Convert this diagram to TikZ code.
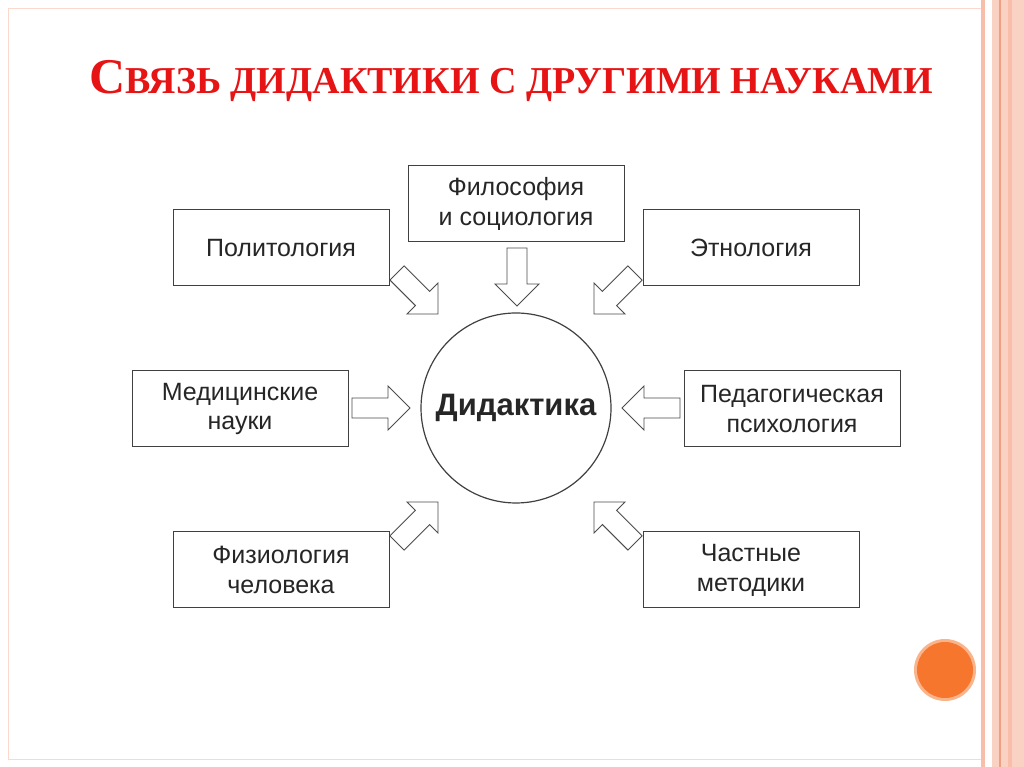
\documentclass[tikz,border=0pt]{standalone}
\usepackage{fontspec}
\setmainfont{Liberation Sans}
\newfontfamily\ttlfont{Liberation Serif}
\definecolor{stripe}{RGB}{248,190,170}
\definecolor{stripedk}{RGB}{240,160,130}
\definecolor{ttlred}{RGB}{230,20,20}
\definecolor{dot}{RGB}{246,118,46}
\begin{document}
\begin{tikzpicture}[x=1pt,y=1pt,
  box/.style={draw=black!75,line width=1pt,minimum width=216pt,minimum height=76pt,align=center,font=\fontsize{25}{30}\selectfont,text=black!85},
  pics/blockarr/.style={code={\draw[black!70,line width=0.9pt,fill=white] (0,-10)--(36,-10)--(36,-22)--(58,0)--(36,22)--(36,10)--(0,10)--cycle;}}]
\useasboundingbox (0,0) rectangle (1024,767);
\fill[white] (0,0) rectangle (1024,767);
\draw[stripe!60,line width=0.8pt] (8,8) rectangle (982,759);
\fill[stripe] (981,0) rectangle (985,767);
\fill[stripe!70] (992,0) rectangle (1024,767);
\fill[stripedk] (999,0) rectangle (1001,767);
\fill[stripe] (1008,0) rectangle (1012,767);
\node[text=ttlred,font=\ttlfont\bfseries] (title) at (511,686) {{\fontsize{50}{54}\selectfont С}{\fontsize{38}{44}\selectfont ВЯЗЬ ДИДАКТИКИ С ДРУГИМИ НАУКАМИ}};
\node[box] (pol) at (281,519) {Политология};
\node[box] (fil) at (516,563) {Философия\\и социология};
\node[box] (eth) at (751,519) {Этнология};
\node[box] (med) at (240,358) {Медицинские\\науки};
\node[box] (ped) at (792,358) {Педагогическая\\психология};
\node[box] (fiz) at (281,197) {Физиология\\человека};
\node[box] (chs) at (751,197) {Частные\\методики};
\node[circle,draw=black!75,line width=1.2pt,minimum size=190pt,inner sep=0pt,font=\fontsize{31}{36}\selectfont\bfseries,text=black!85] (did) at (516,359) {Дидактика};
\pic[rotate=-90] at (517,519) {blockarr};
\pic at (352,359) {blockarr};
\pic[rotate=180] at (680,359) {blockarr};
\pic[rotate=-45] at (397,494) {blockarr};
\pic[rotate=-135] at (635,494) {blockarr};
\pic[rotate=45] at (397,224) {blockarr};
\pic[rotate=135] at (635,224) {blockarr};
\fill[dot!55] (945,97) circle (31);
\fill[dot] (945,97) circle (28);
\end{tikzpicture}
\end{document}
